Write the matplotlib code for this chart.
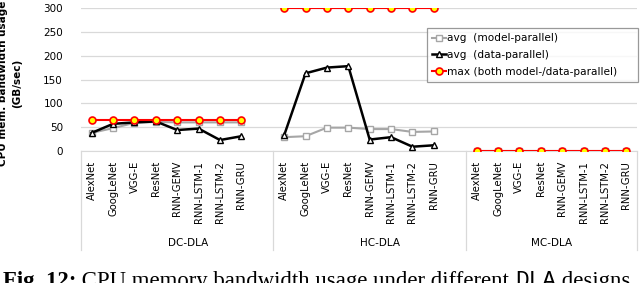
import numpy as np
import matplotlib
matplotlib.use("Agg")
import matplotlib.pyplot as plt

# categories and groups
models = ["AlexNet", "GoogLeNet", "VGG-E", "ResNet", "RNN-GEMV",
          "RNN-LSTM-1", "RNN-LSTM-2", "RNN-GRU"]
groups = ["DC-DLA", "HC-DLA", "MC-DLA"]

# values (GB/sec), one list per group
model_par = {
    "DC-DLA": [38, 48, 59, 61, 60, 60, 60, 60],
    "HC-DLA": [29, 31, 49, 49, 46, 46, 40, 41],
    "MC-DLA": [0.5, 0.5, 0.5, 0.5, 0.5, 0.5, 0.5, 0.5],
}
data_par = {
    "DC-DLA": [38, 57, 60, 62, 44, 47, 23, 31],
    "HC-DLA": [33, 163, 175, 178, 24, 29, 9, 12],
    "MC-DLA": [0.5, 0.5, 0.5, 0.5, 0.5, 0.5, 0.5, 0.5],
}
max_bw = {
    "DC-DLA": [64, 64, 64, 64, 64, 64, 64, 64],
    "HC-DLA": [300, 300, 300, 300, 300, 300, 300, 300],
    "MC-DLA": [1, 1, 1, 1, 1, 1, 1, 1],
}
y_ticks = [0, 50, 100, 150, 200, 250, 300]

plt.rcParams['font.family'] = ['DejaVu Sans']

fig = plt.figure(figsize=(6.4, 2.83), dpi=100)
W, H = 640, 283
ax = fig.add_axes([81 / W, 1 - 151 / H, 556 / W, 143 / H])

slot = len(models) + 1  # one blank slot between groups
xs, labels = [], []
for g, name in enumerate(groups):
    xs.append([g * slot + i for i in range(len(models))])
    labels += models

for g, name in enumerate(groups):
    x = xs[g]
    ax.plot(x, model_par[name], color="#a6a6a6", lw=1.5, marker="s", ms=4.5,
            mfc="white", mec="#a6a6a6", mew=1, zorder=3,
            label="avg  (model-parallel)" if g == 0 else None)
    ax.plot(x, data_par[name], color="black", lw=1.8, marker="^", ms=4.5,
            mfc="white", mec="black", mew=1, zorder=4,
            label="avg  (data-parallel)" if g == 0 else None)
    ax.plot(x, max_bw[name], color="#ff0000", lw=1.5, marker="o", ms=5,
            mfc="#ffff00", mec="#ff0000", mew=1.2, zorder=5,
            label="max (both model-/data-parallel)" if g == 0 else None)

ax.set_xlim(-0.5, 3 * slot - 1.5)
ax.set_ylim(0, 300)
ax.set_yticks(y_ticks)
ax.tick_params(axis="y", length=0, labelsize=7.5, pad=13)
ax.grid(axis="y", color="#d9d9d9", lw=0.9)
ax.set_axisbelow(True)
for s in ["left", "right", "top"]:
    ax.spines[s].set_visible(False)
ax.spines["bottom"].set_color("#d9d9d9")

all_x = [v for x in xs for v in x]
ax.set_xticks(all_x)
ax.set_xticklabels(labels, rotation=90, fontsize=7.2, va="top")
ax.tick_params(axis="x", length=0, pad=7)

# group separators and group names below the axis
trans = ax.get_xaxis_transform()
for sx in [-0.5, slot - 0.5, 2 * slot - 0.5, 3 * slot - 1.5]:
    ax.plot([sx, sx], [0, -0.69], transform=trans, color="#d9d9d9",
            lw=0.9, clip_on=False)
centers = [(slot - 1) / 2 + 0.5, slot + (slot - 1) / 2 + 0.5,
           2 * slot + (slot - 2) / 2]
for c, name in zip(centers, groups):
    ax.text(c, -0.645, name, transform=trans, ha="center", va="center",
            fontsize=7.5)

ax.set_ylabel("CPU mem. bandwidth usage\n(GB/sec)", fontsize=7.5,
              fontweight="bold", linespacing=1.6, labelpad=10)
ax.yaxis.set_label_coords(-0.105, 0.47)

# legend box spans x 427..638, y 28..82 px
lx0, lx1, ly0, ly1 = 427, 638, 28, 82
leg = ax.legend(loc="upper left",
                bbox_to_anchor=((lx0 - 81) / 556, (151 - ly1) / 143,
                                (lx1 - lx0) / 556, (ly1 - ly0) / 143),
                mode="expand", fontsize=7.6, frameon=True, fancybox=False,
                handlelength=1.3, handletextpad=0.1, borderpad=0.5,
                labelspacing=0.65, borderaxespad=0)
leg.get_frame().set_edgecolor("#808080")
leg.get_frame().set_linewidth(0.9)

# caption, partly cut at the bottom
r = fig.canvas.get_renderer()
parts = [("Fig. 12:", dict(family="Liberation Serif", weight="bold")),
         (" CPU memory bandwidth usage under different ", dict(family="Liberation Serif")),
         ("DLA", dict(family="Liberation Mono")),
         (" designs.", dict(family="Liberation Serif"))]
xpos = 3
for txt, kw in parts:
    t = fig.text(xpos / W, -4 / H, txt, fontsize=16.4, va="baseline", ha="left", **kw)
    bb = t.get_window_extent(renderer=r)
    xpos += bb.width

fig.savefig("out.png", dpi=100)
